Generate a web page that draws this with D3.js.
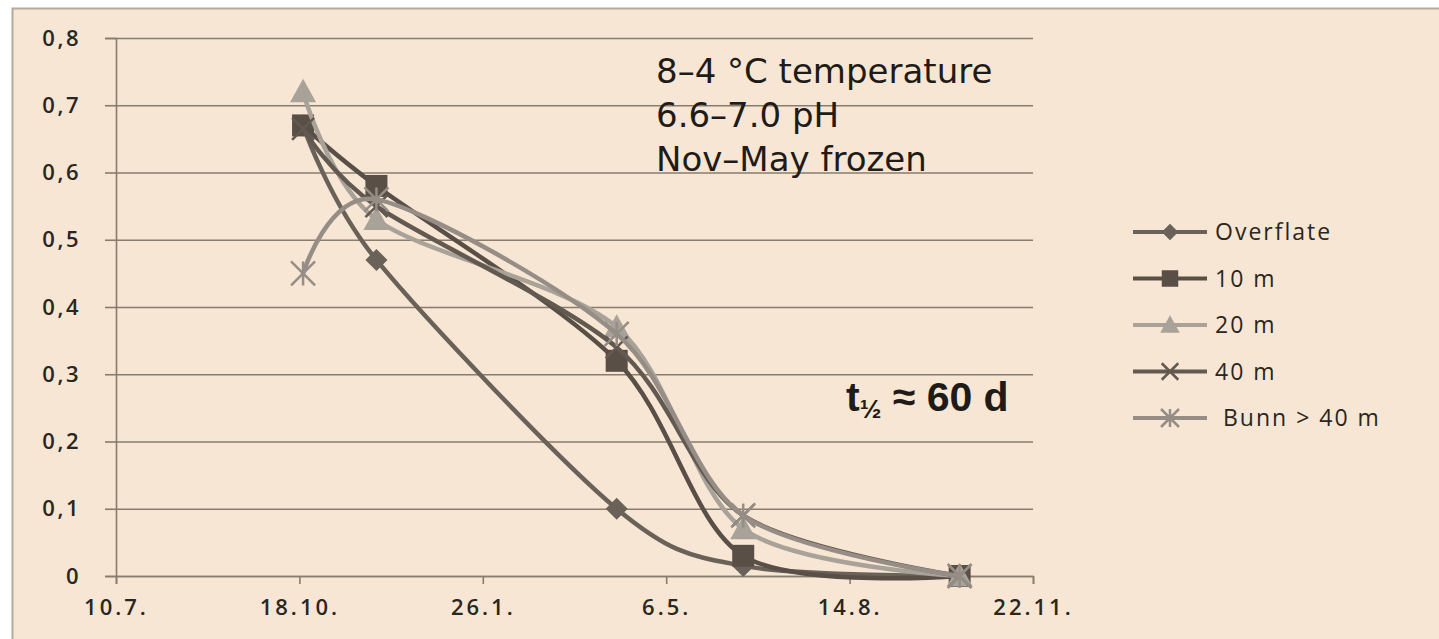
<!DOCTYPE html>
<html>
<head>
<meta charset="utf-8">
<script src="https://cdn.jsdelivr.net/npm/d3@7"></script>
<style>
  body { margin: 0; background: #ffffff; }
  svg { display: block; }
</style>
</head>
<body>
<div class="chart"></div>
<script>
var width = 1439;
var height = 639;

// sampling dates and the series
var sampleDates = ["2008-10-20", "2008-11-29", "2009-04-09", "2009-06-17", "2009-10-13"];
var seriesNames = ["Overflate", "10 m", "20 m", "40 m", "Bunn > 40 m"];
var overflate = [0.67, 0.47, 0.10, 0.015, 0];
var tenM      = [0.67, 0.58, 0.32, 0.03, 0];
var twentyM   = [0.72, 0.53, 0.37, 0.07, 0];
var fortyM    = [0.665, 0.55, 0.34, 0.09, 0];
var bunn      = [0.45, 0.56, 0.36, 0.09, 0];

var tickDates = ["2008-07-10", "2008-10-18", "2009-01-26", "2009-05-06", "2009-08-14", "2009-11-22"];
var yTicks = [0, 0.1, 0.2, 0.3, 0.4, 0.5, 0.6, 0.7, 0.8];
var notes = ["8\u20134 \u00b0C temperature", "6.6\u20137.0 pH", "Nov\u2013May frozen"];

var parse = d3.timeParse("%Y-%m-%d");
var locale = d3.formatLocale({decimal: ",", thousands: " ", grouping: [3], currency: ["", ""]});
var yFmt = function(d) { return d === 0 ? "0" : locale.format(".1f")(d); };

var series = [
  {name: seriesNames[0], values: overflate, color: "#6a6159", width: 4.5, marker: "diamond"},
  {name: seriesNames[1], values: tenM,      color: "#594f47", width: 4.5, marker: "square"},
  {name: seriesNames[2], values: twentyM,   color: "#a8a299", width: 4.5, marker: "triangle"},
  {name: seriesNames[3], values: fortyM,    color: "#625950", width: 4.5, marker: "x"},
  {name: seriesNames[4], values: bunn,      color: "#968e86", width: 4.5, marker: "star"}
];

var svg = d3.select(".chart").append("svg")
    .attr("width", width)
    .attr("height", height);

// beige chart area
svg.append("rect")
    .attr("x", 12).attr("y", 8)
    .attr("width", width - 12).attr("height", height - 8)
    .attr("fill", "#f6e6d3");
svg.append("path")
    .attr("d", "M12.5," + height + "V8.5H" + width)
    .attr("fill", "none")
    .attr("stroke", "#b3aa9e")
    .attr("stroke-width", 2);

var x = d3.scaleTime()
    .domain([parse(tickDates[0]), parse(tickDates[tickDates.length - 1])])
    .range([116, 1033]);
var y = d3.scaleLinear()
    .domain([0, 0.8])
    .range([576, 38]);

// gridlines
svg.append("g")
    .attr("transform", "translate(116,0)")
    .call(d3.axisLeft(y).tickValues(yTicks).tickSize(-(1033 - 116)).tickFormat(""))
    .call(function(g) {
      g.select(".domain").remove();
      g.selectAll("line").attr("stroke", "#877c6e").attr("stroke-width", 1.6);
    });

// y axis
svg.append("g")
    .attr("transform", "translate(116,0)")
    .call(d3.axisLeft(y).tickValues(yTicks).tickSize(11).tickPadding(24).tickFormat(yFmt))
    .call(function(g) {
      g.select(".domain").attr("stroke", "#877c6e").attr("stroke-width", 1.6);
      g.selectAll("line").attr("stroke", "#877c6e").attr("stroke-width", 1.6);
      g.selectAll("text")
        .attr("fill", "#2a2622")
        .style("font-family", "'Open Sans', sans-serif")
        .style("font-weight", "600")
        .style("font-size", "22px")
        .style("letter-spacing", "2.5px");
    });

// x axis
svg.append("g")
    .attr("transform", "translate(0,576)")
    .call(d3.axisBottom(x).tickValues(tickDates.map(parse)).tickSize(8).tickPadding(15)
      .tickFormat(d3.timeFormat("%-d.%-m.")))
    .call(function(g) {
      g.select(".domain").attr("stroke", "#877c6e").attr("stroke-width", 1.6);
      g.selectAll("line").attr("stroke", "#877c6e").attr("stroke-width", 1.6);
      g.selectAll("text")
        .attr("fill", "#2a2622")
        .style("font-family", "'Open Sans', sans-serif")
        .style("font-weight", "600")
        .style("font-size", "22px")
        .style("letter-spacing", "3px");
    });

var line = d3.line()
    .x(function(d, i) { return x(parse(sampleDates[i])); })
    .y(function(d) { return y(d); })
    .curve(d3.curveCardinal.tension(0.1));

function drawMarker(g, type, color, cx, cy, scale) {
  var s = scale || 1;
  if (type === "diamond") {
    var r = 11 * s;
    g.append("path")
      .attr("d", "M" + cx + "," + (cy - r) + "L" + (cx + r) + "," + cy + "L" + cx + "," + (cy + r) + "L" + (cx - r) + "," + cy + "Z")
      .attr("fill", color);
  } else if (type === "square") {
    var h = 11 * s;
    g.append("rect")
      .attr("x", cx - h).attr("y", cy - h)
      .attr("width", 2 * h).attr("height", 2 * h)
      .attr("fill", color);
  } else if (type === "triangle") {
    var t = 13 * s;
    g.append("path")
      .attr("d", "M" + cx + "," + (cy - t) + "L" + (cx + t) + "," + (cy + t * 0.8) + "L" + (cx - t) + "," + (cy + t * 0.8) + "Z")
      .attr("fill", color);
  } else if (type === "x") {
    var a = 11 * s;
    g.append("path")
      .attr("d", "M" + (cx - a) + "," + (cy - a) + "L" + (cx + a) + "," + (cy + a) + "M" + (cx - a) + "," + (cy + a) + "L" + (cx + a) + "," + (cy - a))
      .attr("stroke", color).attr("stroke-width", 2.5).attr("fill", "none");
  } else if (type === "star") {
    var b = 12 * s;
    g.append("path")
      .attr("d", "M" + (cx - b) + "," + (cy - b) + "L" + (cx + b) + "," + (cy + b) + "M" + (cx - b) + "," + (cy + b) + "L" + (cx + b) + "," + (cy - b) + "M" + cx + "," + (cy - b) + "L" + cx + "," + (cy + b))
      .attr("stroke", color).attr("stroke-width", 2.5).attr("fill", "none");
  }
}

series.forEach(function(s) {
  var g = svg.append("g").attr("class", "series");
  g.append("path")
    .datum(s.values)
    .attr("d", line)
    .attr("fill", "none")
    .attr("stroke", s.color)
    .attr("stroke-width", s.width)
    .attr("stroke-linecap", "round");
  s.values.forEach(function(v, i) {
    drawMarker(g, s.marker, s.color, x(parse(sampleDates[i])), y(v));
  });
});

// legend
var legend = svg.append("g").attr("transform", "translate(1133,232)");
series.forEach(function(s, i) {
  var g = legend.append("g").attr("transform", "translate(0," + (i * 46.5) + ")");
  g.append("line")
    .attr("x1", 0).attr("x2", 74)
    .attr("stroke", s.color).attr("stroke-width", 4);
  drawMarker(g, s.marker, s.color, 37, 0, 0.75);
  g.append("text")
    .attr("x", i === 4 ? 90 : 82)
    .attr("y", 8)
    .attr("fill", "#2a2622")
    .style("font-family", "'Open Sans', sans-serif")
    .style("font-size", "23px")
    .style("letter-spacing", "2px")
    .text(s.name);
});

// notes
svg.append("g").selectAll("text")
    .data(notes)
    .join("text")
    .attr("x", 656)
    .attr("y", function(d, i) { return 83 + i * 44; })
    .attr("fill", "#1e1b18")
    .style("font-family", "'DejaVu Sans', sans-serif")
    .style("font-size", "34px")
    .text(function(d) { return d; });

var half = svg.append("text")
    .attr("x", 846)
    .attr("y", 411)
    .attr("fill", "#1e1b18")
    .style("font-family", "'Liberation Sans', Arial, sans-serif")
    .style("font-weight", "bold")
    .style("font-size", "41px");
half.append("tspan").text("t");
half.append("tspan").attr("dy", 7).style("font-size", "26px").text("\u00bd");
half.append("tspan").attr("dy", -7).text(" \u2248 60 d");
</script>
</body>
</html>
